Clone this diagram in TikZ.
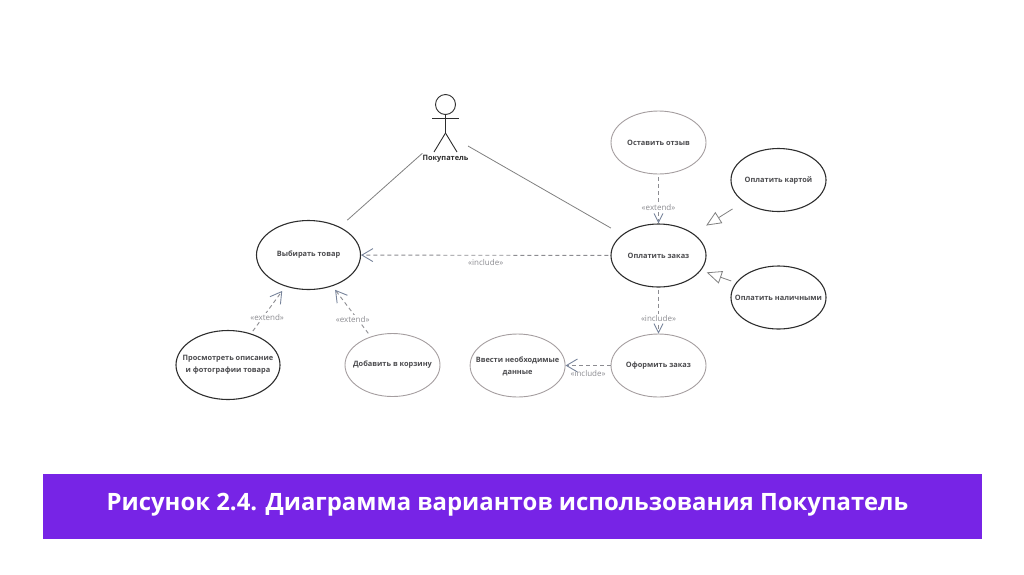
\documentclass[tikz,border=0pt]{standalone}
\usepackage{fontspec}
\setmainfont{Open Sans}
\usepackage{xcolor}
\usetikzlibrary{positioning,arrows.meta,shapes.geometric}
\definecolor{violetBand}{RGB}{119,36,230}
\definecolor{darkLine}{RGB}{45,45,45}
\definecolor{paleLine}{RGB}{165,158,160}
\definecolor{dashGray}{RGB}{140,140,145}
\definecolor{tipBlue}{RGB}{120,132,155}
\definecolor{caseText}{RGB}{75,75,78}

\begin{document}
\begin{tikzpicture}[
    x=1pt, y=-1pt,
    usecase/.style={draw=darkLine, ellipse, line width=1.1pt, inner sep=0pt,
                    minimum width=95pt, minimum height=63pt},
    palecase/.style={usecase, draw=paleLine, line width=0.9pt},
    wide/.style={minimum width=104pt, minimum height=69pt},
    casename/.style={align=center, text=caseText, font=\bfseries\fontsize{7.4}{12}\selectfont},
    stereo/.style={text=dashGray, inner sep=1pt, font=\fontsize{8}{9}\selectfont},
    depend/.style={dashed, dash pattern=on 4pt off 3pt, draw=dashGray, line width=0.9pt},
    bighead/.style={depend, -{Straight Barb[length=11pt, width=13pt, color=tipBlue, line width=0.9pt]}},
    smallhead/.style={depend, -{Straight Barb[length=9pt, width=9pt, color=tipBlue, line width=0.9pt]}},
    general/.style={draw=gray, line width=0.8pt,
                    -{Triangle[open, length=15pt, width=13pt, color=gray, fill=white]}},
    assoc/.style={draw=gray, line width=0.8pt},
    stick/.style={draw=darkLine, line width=0.9pt},
    bandname/.style={text=white, font=\bfseries\fontsize{23.9}{29}\selectfont}
]
    \useasboundingbox (0,0) rectangle (1024,574);

    \node[usecase, wide, label={[casename,yshift=0.5pt]center:Выбирать товар}] (tovar) at (308.5,255) {};
    \node[usecase, label={[casename]center:Оплатить заказ}] (zakaz) at (658.5,255.5) {};
    \node[palecase, above=49pt of zakaz, label={[casename]center:Оставить отзыв}] (otzyv) {};
    \node[palecase, below=46pt of zakaz, label={[casename]center:Оформить заказ}] (oformit) {};
    \node[palecase, left=45pt of oformit, label={[casename,yshift=-0.5pt]center:Ввести необходимые\\данные}] (vvesti) {};
    \node[usecase, right=24pt of otzyv, yshift=-37.5pt, label={[casename]center:Оплатить картой}] (kartoy) {};
    \node[usecase, right=24pt of oformit, yshift=68pt, label={[casename]center:Оплатить наличными}] (nalich) {};
    \node[usecase, wide, label={[casename]center:Просмотреть описание\\и фотографии товара}] (prosmotr) at (228,365) {};
    \node[palecase, right=64pt of prosmotr, label={[casename]center:Добавить в корзину}] (korzina) {};

    \node[stick, circle, minimum size=20pt, inner sep=0pt] (head) at (445.5,104.5) {};
    \coordinate (hip) at (445.5,133);
    \coordinate (armL) at (432,118);
    \coordinate (armR) at (458.5,118);
    \coordinate (footL) at (434,152);
    \coordinate (footR) at (457,152);
    \draw[stick] (head.south) -- (hip) -- (footL);
    \draw[stick] (hip) -- (footR);
    \draw[stick] (armL) -- (armR);
    \node[casename, text=darkLine, inner sep=0pt, minimum width=45pt, minimum height=10pt] (buyer) at (445.5,158.5) {Покупатель};
    \coordinate (buyerR) at (468,146);

    \draw[assoc, shorten >=10pt] (buyer.north west) -- (tovar.42);
    \draw[assoc, shorten >=13pt] (buyerR) -- (zakaz.150);

    \draw[bighead, shorten <=2pt] (zakaz) -- node[stereo, below=3pt] {«include»} (tovar);
    \draw[bighead, shorten <=3pt, shorten >=5.5pt] (prosmotr) -- node[stereo, pos=.35, xshift=4pt, fill=white] {«extend»} (tovar);
    \draw[bighead, shorten <=4pt, shorten >=4.5pt] (korzina) -- node[stereo, pos=.34, xshift=-5pt, fill=white] {«extend»} (tovar);
    \draw[smallhead, shorten <=3pt] (otzyv) -- node[stereo, pos=.67, fill=white] {«extend»} (zakaz);
    \draw[smallhead, shorten <=2pt] (zakaz) -- node[stereo, pos=.67, fill=white] {«include»} (oformit);
    \draw[bighead] (oformit) -- node[stereo, below=3pt] {«include»} (vvesti);
    \draw[general, shorten <=13pt, shorten >=15pt] (kartoy) -- (zakaz);
    \draw[general, shorten <=5pt, shorten >=6pt] (nalich) -- (zakaz);

    \node[fill=violetBand, minimum width=939pt, minimum height=65pt, inner sep=0pt,
          label={[bandname, xshift=-5pt, yshift=2pt]center:Рисунок 2.4. Диаграмма вариантов использования Покупатель}] (band) at (512.5,506.5) {};
\end{tikzpicture}
\end{document}
